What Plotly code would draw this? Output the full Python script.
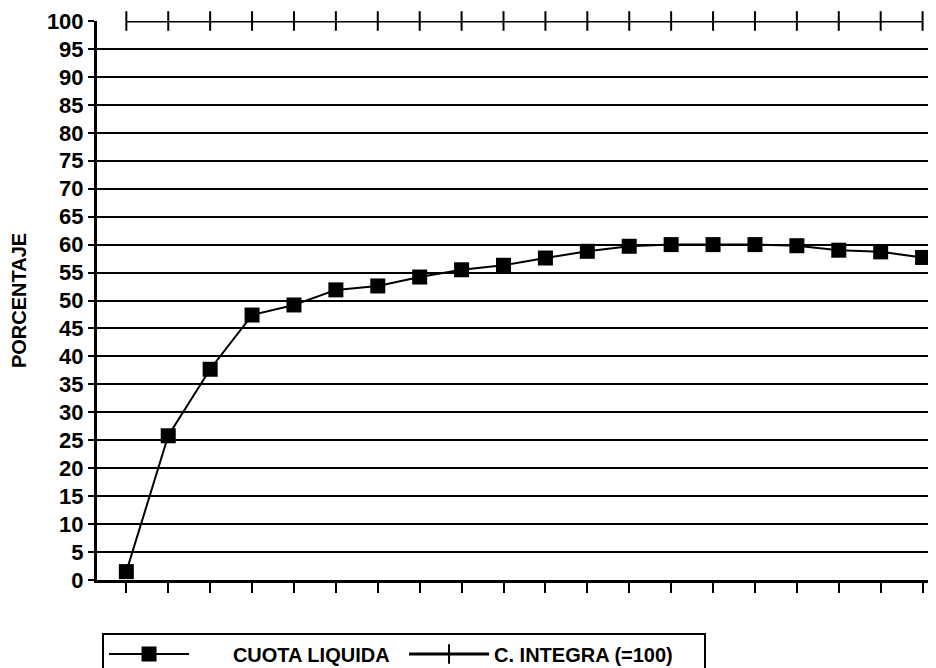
import plotly.graph_objects as go

periodos = [1, 2, 3, 4, 5, 6, 7, 8, 9, 10, 11, 12, 13, 14, 15, 16, 17, 18, 19, 20]
cuota_liquida = [1.5, 25.8, 37.7, 47.4, 49.2, 51.9, 52.6, 54.2, 55.5, 56.3,
                 57.6, 58.8, 59.7, 60.0, 60.0, 60.0, 59.8, 59.0, 58.7, 57.7]
c_integra = [100] * 20
y_ticks = [0, 5, 10, 15, 20, 25, 30, 35, 40, 45, 50, 55, 60, 65, 70, 75, 80, 85, 90, 95, 100]
serie_nombres = ["CUOTA LIQUIDA", "C. INTEGRA (=100)"]

FONT = "Liberation Sans"
NB = "\u00a0"

fig = go.Figure()
fig.add_trace(go.Scatter(
    x=periodos, y=cuota_liquida, name=NB * 7 + serie_nombres[0],
    mode="lines+markers",
    line=dict(color="black", width=2),
    marker=dict(symbol="square", size=15, color="black"),
    cliponaxis=False,
))
fig.add_trace(go.Scatter(
    x=periodos, y=c_integra, name=serie_nombres[1] + NB * 20,
    mode="lines+markers",
    line=dict(color="black", width=3),
    marker=dict(symbol="line-ns", size=14, line=dict(color="black", width=2)),
    cliponaxis=False,
))

fig.update_layout(
    width=928, height=660,
    margin=dict(l=89, r=0, t=13, b=88, autoexpand=False),
    paper_bgcolor="white", plot_bgcolor="white",
    font=dict(family=FONT, color="black"),
    showlegend=True,
    legend=dict(
        orientation="h",
        x=0.006, xanchor="left",
        y=-0.094, yanchor="top",
        bordercolor="black", borderwidth=2,
        font=dict(family=FONT, size=20, color="black", weight="bold"),
        itemwidth=80,
        entrywidth=205,
        tracegroupgap=0,
    ),
    xaxis=dict(
        range=[0.30, 20.32],
        tickvals=periodos,
        ticktext=[""] * len(periodos),
        ticks="outside", ticklen=10, tickwidth=2, tickcolor="black",
        showgrid=False, zeroline=False, automargin=False,
        showline=True, linecolor="black", linewidth=3,
    ),
    yaxis=dict(
        range=[0, 100],
        tickvals=y_ticks,
        ticks="outside", ticklen=6, tickwidth=2, tickcolor="black",
        tickfont=dict(family=FONT, size=22, color="black", weight="bold"),
        ticklabeloverflow="allow",
        showgrid=True, gridcolor="black", gridwidth=2,
        zeroline=False, automargin=False,
        showline=True, linecolor="black", linewidth=3,
        title=dict(text="PORCENTAJE", standoff=22,
                   font=dict(family=FONT, size=20, color="black", weight="bold")),
    ),
)

fig.write_html("out.html")
